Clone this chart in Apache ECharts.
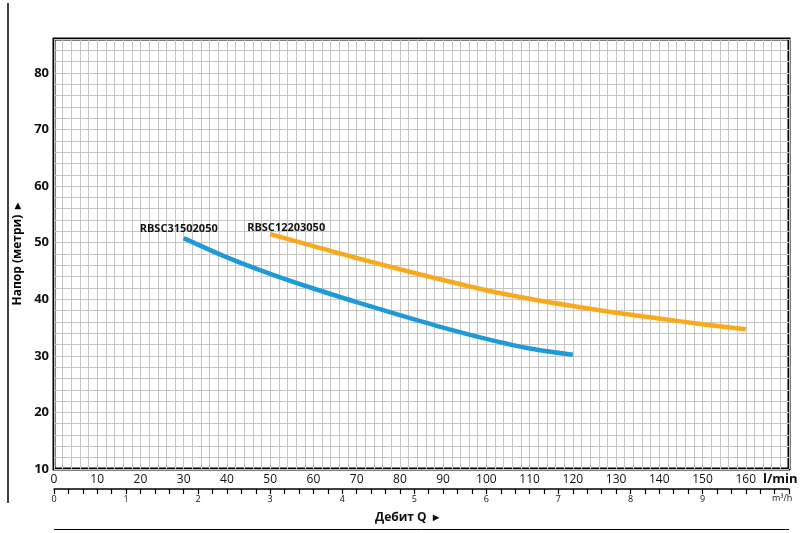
<!DOCTYPE html>
<html>
<head>
<meta charset="utf-8">
<script src="https://cdn.jsdelivr.net/npm/echarts@6/dist/echarts.min.js"></script>
<style>
html,body{margin:0;padding:0;background:#fff;}
#chart{width:800px;height:533px;}
</style>
</head>
<body>
<div id="chart"></div>
<script>
// Data (flow in l/min, head in m)
var blueName = 'RBSC31502050';
var blueQ = [30, 40, 50, 60, 70, 80, 90, 100, 110, 120];
var blueH = [50.8, 47.4, 44.5, 41.9, 39.5, 37.2, 35.0, 33.0, 31.3, 30.2];

var orangeName = 'RBSC12203050';
var orangeQ = [50, 60, 70, 80, 90, 100, 110, 120, 130, 140, 150, 160];
var orangeH = [51.5, 49.4, 47.3, 45.3, 43.4, 41.6, 40.1, 38.8, 37.6, 36.6, 35.6, 34.7];

var yTickLabels = [10, 20, 30, 40, 50, 60, 70, 80];
var xTickLabels = [0, 10, 20, 30, 40, 50, 60, 70, 80, 90, 100, 110, 120, 130, 140, 150, 160];
var m3hTickLabels = [0, 1, 2, 3, 4, 5, 6, 7, 8, 9];

function pairs(xs, ys) { return xs.map(function (x, i) { return [x, ys[i]]; }); }
function near(v, list) {
  for (var i = 0; i < list.length; i++) if (Math.abs(v - list[i]) < 1e-6) return true;
  return false;
}

var FONT = '"Open Sans", "Noto Sans", sans-serif';
var chart = echarts.init(document.getElementById('chart'), null, {renderer: 'canvas'});

chart.setOption({
  animation: false,
  backgroundColor: '#ffffff',
  textStyle: {fontFamily: FONT},
  grid: {
    left: 54, top: 39, right: 11, bottom: 64,
    show: true, borderColor: '#000', borderWidth: 3, backgroundColor: 'transparent',
    containLabel: false
  },
  xAxis: [{
    type: 'value', min: 0, max: 170, interval: 2, position: 'bottom',
    axisLine: {show: false}, axisTick: {show: false},
    splitLine: {show: true, lineStyle: {color: '#c4c4c4', width: 1}},
    axisLabel: {
      show: true, margin: 5, fontSize: 12, color: '#111', fontFamily: FONT,
      formatter: function (v) { return near(v, xTickLabels) ? String(Math.round(v)) : ''; }
    }
  }, {
    type: 'value', min: 0, max: 10.2, interval: 0.2, position: 'bottom', offset: 20,
    axisLine: {show: true, onZero: false, lineStyle: {color: '#000', width: 1.5}},
    axisTick: {show: true, length: 5, lineStyle: {color: '#000', width: 1.2}},
    splitLine: {show: false},
    axisLabel: {
      show: true, margin: 6, fontSize: 9, color: '#111', fontFamily: FONT,
      formatter: function (v) { return near(v, m3hTickLabels) ? String(Math.round(v)) : ''; }
    }
  }],
  yAxis: [{
    type: 'value', min: 10, max: 86, interval: 2,
    axisLine: {show: false}, axisTick: {show: false},
    splitLine: {show: true, lineStyle: {color: '#c4c4c4', width: 1}},
    axisLabel: {
      show: true, margin: 5, fontSize: 13, fontWeight: 'bold', color: '#111', fontFamily: FONT,
      formatter: function (v) { return near(v, yTickLabels) ? String(Math.round(v)) : ''; }
    },
    name: 'Напор (метри)  ▸', nameLocation: 'middle', nameGap: 30, nameRotate: 90,
    nameTextStyle: {fontSize: 12, fontWeight: 'bold', color: '#000', fontFamily: FONT}
  }],
  series: [{
    name: blueName, type: 'line', xAxisIndex: 0, yAxisIndex: 0,
    data: pairs(blueQ, blueH), smooth: 0.3, showSymbol: false, symbol: 'none',
    lineStyle: {color: '#1d9ad7', width: 4.5, cap: 'butt'},
    markPoint: {
      symbol: 'circle', symbolSize: 0, silent: true,
      data: [{coord: [blueQ[0], blueH[0]], value: blueName}],
      label: {show: true, position: 'top', distance: 4, offset: [-5, 0], formatter: blueName,
        fontSize: 11, fontWeight: 'bold', color: '#111', fontFamily: FONT}
    }
  }, {
    name: orangeName, type: 'line', xAxisIndex: 0, yAxisIndex: 0,
    data: pairs(orangeQ, orangeH), smooth: 0.3, showSymbol: false, symbol: 'none',
    lineStyle: {color: '#f8aa1c', width: 4.5, cap: 'butt'},
    markPoint: {
      symbol: 'circle', symbolSize: 0, silent: true,
      data: [{coord: [orangeQ[0], orangeH[0]], value: orangeName}],
      label: {show: true, position: 'top', distance: 1, offset: [16, 0], formatter: orangeName,
        fontSize: 11, fontWeight: 'bold', color: '#111', fontFamily: FONT}
    }
  }],
  graphic: [
    {type: 'line', shape: {x1: 8, y1: 3, x2: 8, y2: 503}, style: {stroke: '#000', lineWidth: 1.5}},
    {type: 'line', shape: {x1: 54, y1: 529.5, x2: 789, y2: 529.5}, style: {stroke: '#000', lineWidth: 1}},
    {type: 'text', left: 763, top: 473, style: {text: 'l/min', font: 'bold 13px ' + FONT, fill: '#111'}},
    {type: 'text', left: 772, top: 494, style: {text: 'm³/h', font: '9px ' + FONT, fill: '#111'}},
    {type: 'text', left: 375, top: 512, style: {text: 'Дебит Q  ▸', font: 'bold 12px ' + FONT, fill: '#111'}}
  ]
});
</script>
</body>
</html>
